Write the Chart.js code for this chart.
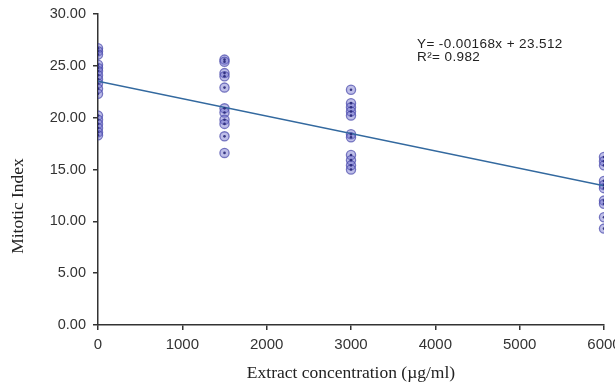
<!DOCTYPE html>
<html>
<head>
<meta charset="utf-8">
<script src="https://cdn.jsdelivr.net/npm/chart.js@4"></script>
<style>
  html, body { margin: 0; padding: 0; background: #fff; }
  #wrap { width: 615px; height: 387px; position: relative; }
</style>
</head>
<body>
<div id="wrap"><canvas id="c"></canvas></div>
<script>
// Extract concentrations (µg/ml) and mitotic index readings per concentration
const concentrations = [0, 1500, 3000, 6000];
const mitotic0    = [26.7, 26.4, 26.1, 25.1, 24.8, 24.5, 24.1, 23.7, 23.3, 22.8, 22.3, 20.2, 19.8, 19.4, 19.0, 18.6, 18.3];
const mitotic1500 = [25.6, 25.4, 24.3, 24.0, 22.9, 20.9, 20.5, 19.8, 19.4, 18.2, 16.6];
const mitotic3000 = [22.7, 21.4, 21.0, 20.6, 20.2, 18.4, 18.1, 16.4, 15.9, 15.4, 15.0];
const mitotic6000 = [16.2, 15.8, 15.4, 13.9, 13.5, 13.2, 12.0, 11.7, 10.4, 9.3];

// Linear fit
const slope = -0.00168;
const intercept = 23.512;
const rSquared = 0.982;

const xTicks = [0, 1000, 2000, 3000, 4000, 5000, 6000];
const yTicks = [0, 5, 10, 15, 20, 25, 30];
const yTitle = 'Mitotic Index';

const groups = [mitotic0, mitotic1500, mitotic3000, mitotic6000];
const points = [];
groups.forEach((vals, i) => vals.forEach(v => points.push({ x: concentrations[i], y: v })));

const fitLine = [0, 6000].map(x => ({ x, y: slope * x + intercept }));

const sansFont = '"Liberation Sans", Arial, sans-serif';
const serifFont = '"Liberation Serif", "Times New Roman", serif';

// Regression equation and the rotated y-axis title
const annotations = {
  id: 'annotations',
  afterDatasetsDraw(chart) {
    const ctx = chart.ctx;
    ctx.save();
    ctx.fillStyle = '#222';
    ctx.font = '13.5px ' + sansFont;
    ctx.letterSpacing = '0.4px';
    ctx.textBaseline = 'middle';
    ctx.fillText('Y= ' + slope.toFixed(5) + 'x + ' + intercept.toFixed(3), 417, 44);
    ctx.fillText('R\u00B2= ' + rSquared.toFixed(3), 417, 57);
    ctx.restore();

    ctx.save();
    ctx.fillStyle = '#222';
    ctx.font = '17.5px ' + serifFont;
    ctx.textAlign = 'center';
    ctx.textBaseline = 'middle';
    ctx.translate(18, 206);
    ctx.rotate(-Math.PI / 2);
    ctx.fillText(yTitle, 0, 0);
    ctx.restore();
  }
};

new Chart(document.getElementById('c'), {
  type: 'scatter',
  data: {
    datasets: [
      {
        type: 'line',
        data: fitLine,
        borderColor: '#33699f',
        borderWidth: 1.4,
        pointRadius: 0,
        fill: false,
        order: 1
      },
      {
        data: points,
        pointRadius: 4.6,
        backgroundColor: 'rgba(110,110,205,0.45)',
        borderColor: 'rgba(70,70,170,0.7)',
        borderWidth: 1.3,
        order: 2
      },
      {
        data: points,
        pointRadius: 1.3,
        backgroundColor: 'rgba(40,40,120,0.9)',
        borderWidth: 0,
        order: 0
      }
    ]
  },
  options: {
    responsive: true,
    maintainAspectRatio: false,
    animation: false,
    layout: { padding: { top: 14, right: 11, left: 0, bottom: 0 } },
    plugins: { legend: { display: false }, tooltip: { enabled: false } },
    scales: {
      x: {
        type: 'linear',
        min: 0, max: 6000,
        afterBuildTicks(scale) { scale.ticks = xTicks.map(v => ({ value: v })); },
        afterFit(scale) { scale.height = 62; scale.paddingLeft = 0; scale.paddingRight = 0; },
        border: { display: true, color: '#333', width: 1.5 },
        grid: { display: true, drawOnChartArea: false, drawTicks: true, tickLength: 5, color: '#333', lineWidth: 1.5 },
        ticks: {
          color: '#333',
          padding: 6,
          maxRotation: 0,
          font: { family: sansFont, size: 15 },
          callback: v => String(v)
        },
        title: {
          display: true,
          text: 'Extract concentration (\u00B5g/ml)',
          color: '#222',
          font: { family: serifFont, size: 17.5 },
          padding: { top: 0, bottom: 3 }
        }
      },
      y: {
        min: 0, max: 30,
        afterBuildTicks(scale) { scale.ticks = yTicks.map(v => ({ value: v })); },
        afterFit(scale) { scale.width = 98; scale.paddingTop = 0; scale.paddingBottom = 0; },
        border: { display: true, color: '#333', width: 1.5 },
        grid: { display: true, drawOnChartArea: false, drawTicks: true, tickLength: 5, color: '#333', lineWidth: 1.5 },
        ticks: {
          color: '#333',
          padding: 7,
          font: { family: sansFont, size: 14.5 },
          callback: v => Number(v).toFixed(2)
        },
        title: { display: false }
      }
    }
  },
  plugins: [annotations]
});
</script>
</body>
</html>
